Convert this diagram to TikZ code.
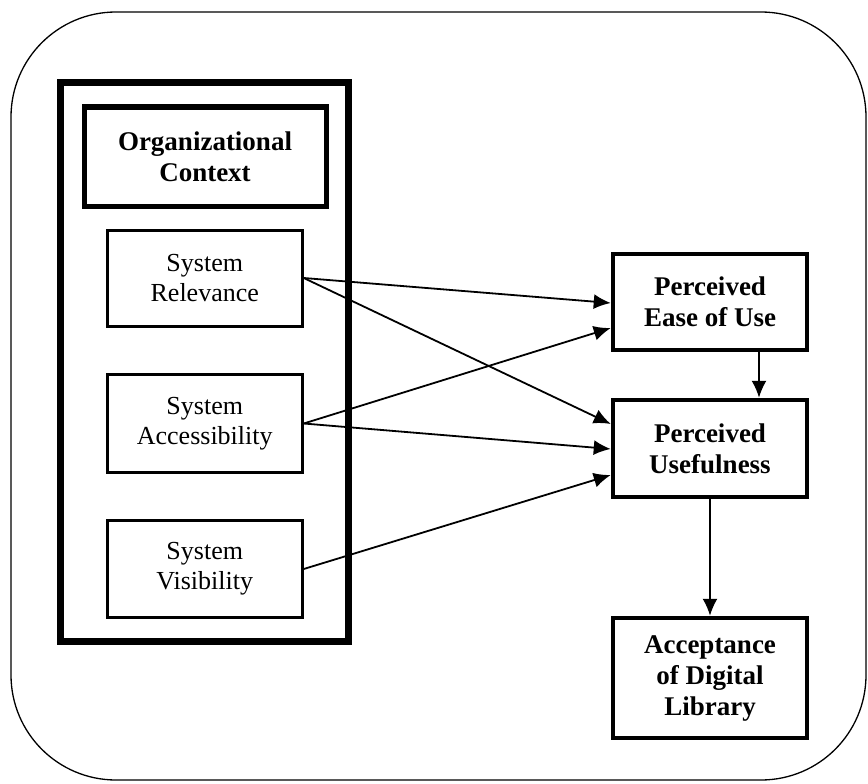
\documentclass[tikz,border=0pt]{standalone}
\usepackage{fontspec}
\setmainfont{Liberation Serif}
\usetikzlibrary{calc,arrows.meta}
\begin{document}
\begin{tikzpicture}[x=1pt,y=-1pt,
  sbox/.style={draw,line width=3pt,rectangle,inner sep=0pt,align=center,
     minimum width=195pt,font=\fontsize{26}{30}\selectfont},
  bbox/.style={draw,line width=4.5pt,rectangle,inner sep=0pt,align=center,
     minimum width=194pt,font=\fontsize{27}{31}\selectfont\bfseries},
  arr/.style={line width=1.8pt,-{Latex[length=17pt,width=15pt]}}]
\useasboundingbox (0,0) rectangle (868,784);
\draw[line width=1.3pt,rounded corners=105pt] (11,12) rectangle (866,780);
\node[draw,line width=7pt,minimum width=288pt,minimum height=558pt,inner sep=0pt] (ctx) at (204,362) {};
\node[draw,line width=5pt,minimum width=242pt,minimum height=99pt,inner sep=0pt,align=center,font=\fontsize{27}{31}\selectfont\bfseries] (org) at (205,156.5) {Organizational\\Context};
\node[sbox,minimum height=96pt] (rel) at (204.75,278) {System\\Relevance};
\node[sbox,minimum height=98pt] (acc) at (204.75,423.5) {System\\Accessibility};
\node[sbox,minimum height=97pt] (vis) at (204.75,569) {System\\Visibility};
\node[bbox,minimum height=96pt] (peou) at (710,302) {Perceived\\Ease of Use};
\node[bbox,minimum height=97pt] (pu) at (710,448.5) {Perceived\\Usefulness};
\node[bbox,minimum height=120pt] (adl) at (710,678) {Acceptance\\of Digital\\Library};
\draw[arr] (rel.east) -- ($(peou.west)+(0,1)$);
\draw[arr] (rel.east) -- ($(pu.west)+(0,-24.5)$);
\draw[arr] (acc.east) -- ($(peou.west)+(0,26)$);
\draw[arr] (acc.east) -- ($(pu.west)+(0,0.5)$);
\draw[arr] (vis.east) -- ($(pu.west)+(0,26.5)$);
\draw[arr] ($(peou.south)+(49,0)$) -- ($(pu.north)+(49,0)$);
\draw[arr] (pu.south) -- (adl.north);
\end{tikzpicture}
\end{document}
